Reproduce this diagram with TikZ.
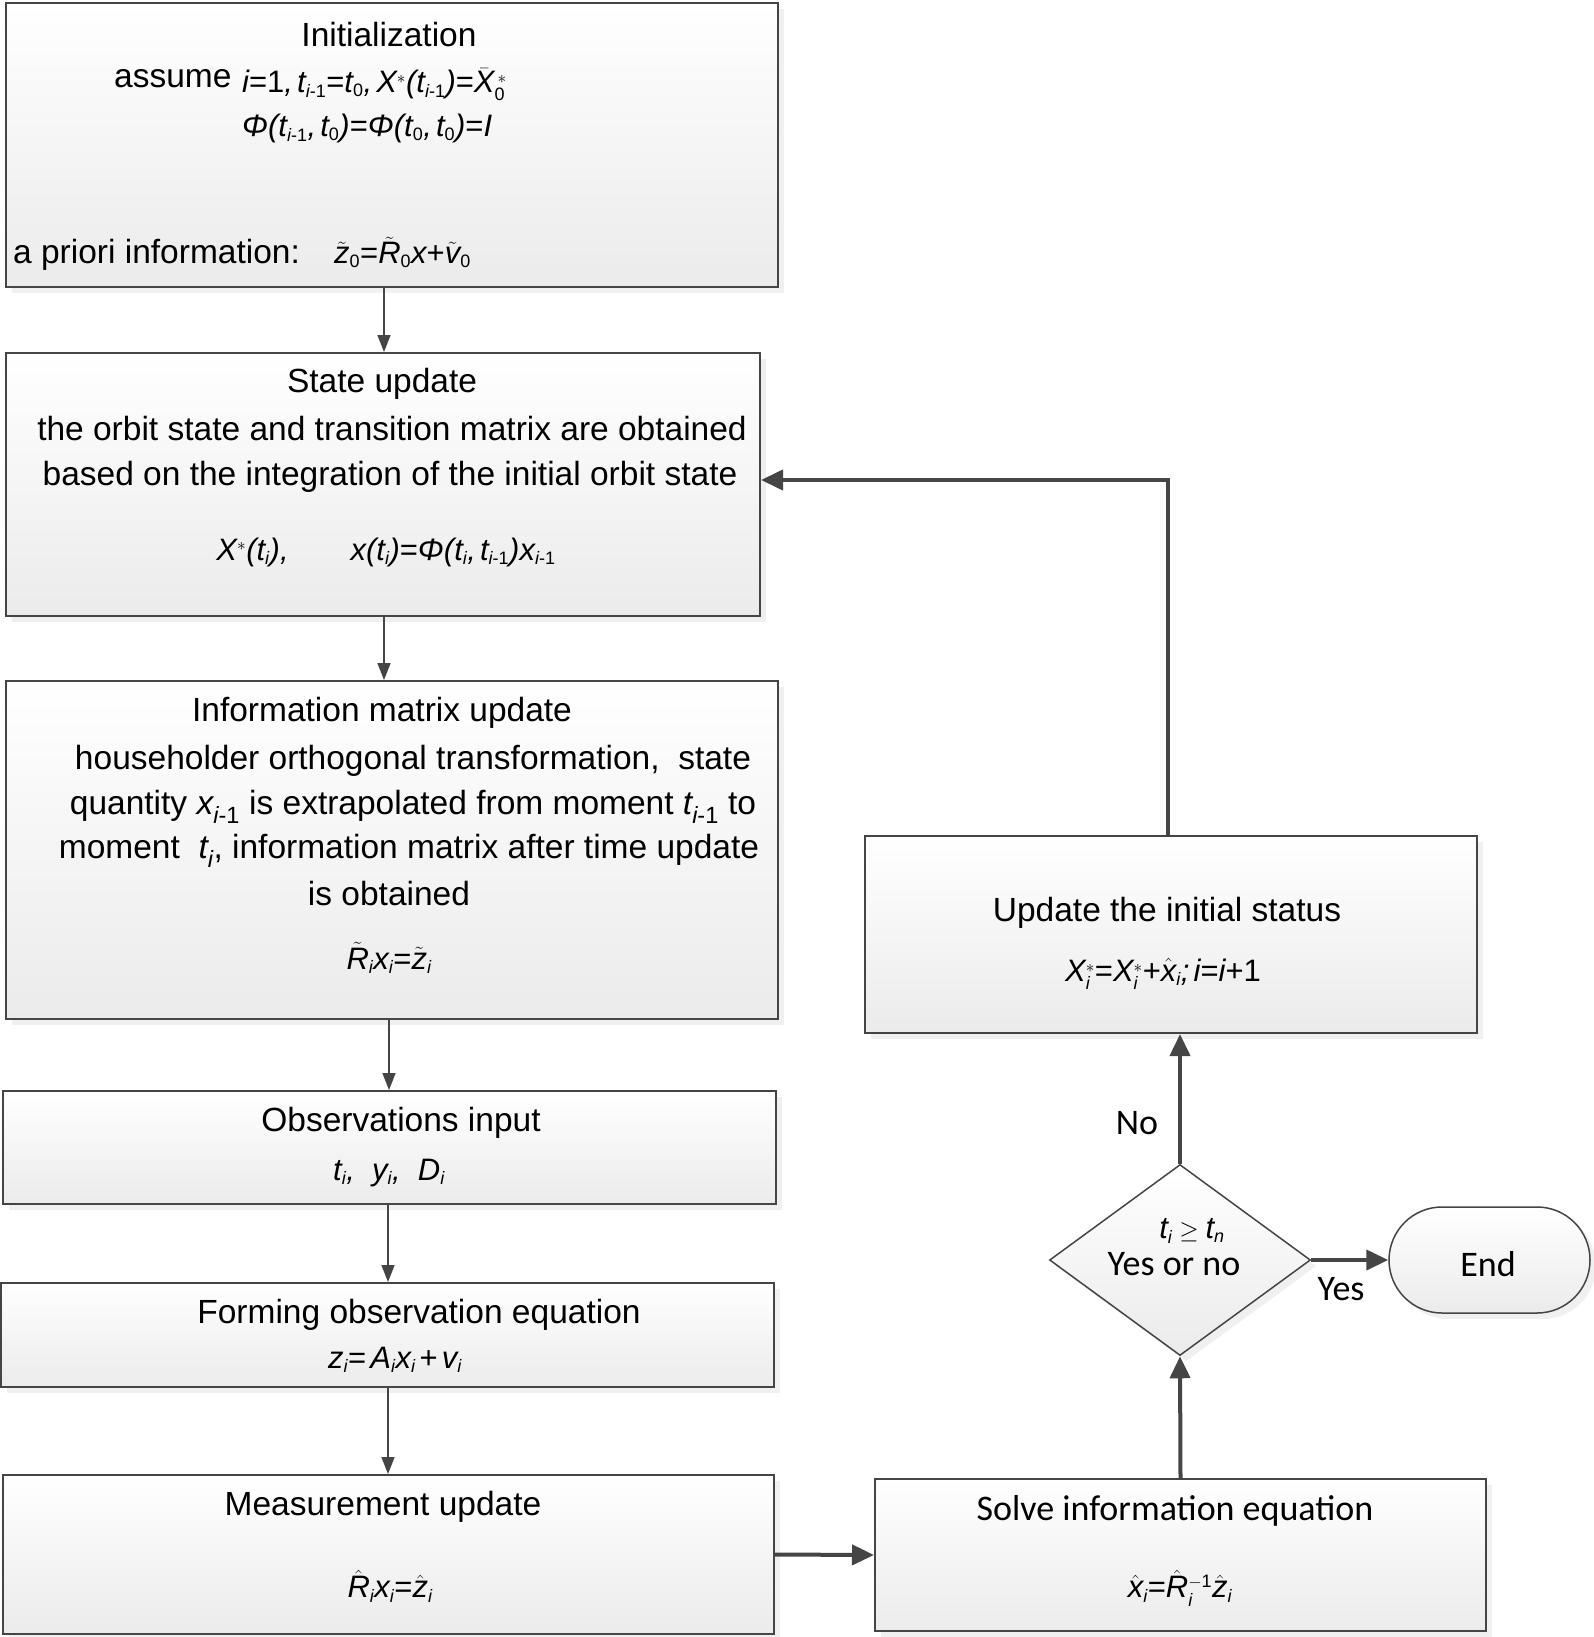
\documentclass[tikz,border=0pt]{standalone}
\usepackage{amsmath}
\usepackage{mathspec}
\setmainfont{Liberation Sans}
\setmathsfont(Digits,Latin,Greek,Symbols){Liberation Sans}
\newfontfamily\calib{Carlito}
\DeclareMathSizes{31}{31}{18}{14}
\usetikzlibrary{arrows.meta,shapes.geometric,shadows}
\definecolor{edgec}{HTML}{454545}
\definecolor{shadec}{HTML}{EBEBEB}
\newcommand{\Phii}{\text{\itshape Φ}}
\newcommand{\mi}{\text{-}}
\newcommand{\eq}{\text{=}}
\newcommand{\pl}{\text{+}}
\newcommand{\lp}{\text{\itshape (}}
\newcommand{\rp}{\text{\itshape )}}
\newcommand{\cm}{\text{\itshape ,}}
\newcommand{\sm}{\text{\itshape ;}}
\begin{document}
\begin{tikzpicture}[x=1pt,y=-1pt,
  box/.style={draw=edgec, line width=2pt, top color=white, bottom color=shadec,
    drop shadow={shadow xshift=6pt, shadow yshift=-6pt, fill=black!11}, inner sep=0pt},
  txt/.style={inner sep=0pt, font=\fontsize{33.5}{44}\selectfont},
  fml/.style={inner sep=0pt, font=\fontsize{31}{40}\selectfont},
  cal/.style={inner sep=0pt, font=\calib\fontsize{36}{44}\selectfont},
  thinarr/.style={draw=edgec, line width=1.6pt, -{Triangle[length=17pt,width=13pt]}},
  thickarr/.style={draw=edgec, line width=4pt, -{Triangle[length=22pt,width=20pt]}}]
\fill[white] (0,0) rectangle (1594,1637);
\useasboundingbox (0,0) rectangle (1594,1637);

% boxes
\node[box, minimum width=772pt, minimum height=284pt] (init) at (392,145) {};
\node[box, minimum width=754pt, minimum height=263pt] (state) at (383,484.5) {};
\node[box, minimum width=772pt, minimum height=338pt] (info) at (392,850) {};
\node[box, minimum width=773pt, minimum height=113pt] (obs) at (389.5,1147.5) {};
\node[box, minimum width=773pt, minimum height=104pt] (form) at (387.5,1335) {};
\node[box, minimum width=771pt, minimum height=159pt] (meas) at (388.5,1554.5) {};
\node[box, minimum width=611pt, minimum height=152pt] (solve) at (1180.5,1555) {};
\node[box, minimum width=612pt, minimum height=197pt] (upd) at (1171,934.5) {};
\node[box, diamond, aspect=1.37, minimum width=261pt, minimum height=191pt, line width=1.5pt] (dec) at (1180,1260) {};
\node[box, rounded corners=53pt, minimum width=201pt, minimum height=106pt, line width=1.5pt] (endn) at (1489.5,1260) {};

% texts: Initialization
\node[txt] (t1) at (389,35) {Initialization};
\node[txt, anchor=base west] (t2) at (114,88) {assume};
\node[fml, anchor=base west] (t3) at (242,93) {$i\eq1\cm\, t_{i\mi1}\eq t_0\cm\, X^{*}\lp t_{i\mi1}\rp\eq\bar{X}_0^{\,*}$};
\node[fml, anchor=base west] (t4) at (242,137) {$\Phii\lp t_{i\mi1}\cm\, t_0\rp\eq\Phii\lp t_0\cm\, t_0\rp\eq I$};
\node[txt, anchor=base west] (t5) at (13,264) {a priori information:};
\node[fml, anchor=base west] (t6) at (334,264) {$\tilde{z}_0\eq\tilde{R}_0x\pl\tilde{v}_0$};

% State update
\node[txt] (s1) at (382,384) {State update};
\node[txt] (s2) at (392,429) {the orbit state and transition matrix are obtained};
\node[txt] (s3) at (390,477) {based on the integration of the initial orbit state};
\node[fml] (s4) at (386,552) {$X^{*}\lp t_i\rp\cm\qquad x\lp t_i\rp\eq\Phii\lp t_i\cm\, t_{i\mi1}\rp x_{i\mi1}$};

% Information matrix update
\node[txt] (m1) at (382,713) {Information matrix update};
\node[txt] (m2) at (413,761) {householder orthogonal transformation,\ \ state};
\node[txt] (m3) at (413,807) {quantity $x_{i\mi1}$ is extrapolated from moment $t_{i\mi1}$ to};
\node[txt] (m4) at (409,851) {moment\ \ $t_i$, information matrix after time update};
\node[txt] (m5) at (389,894) {is obtained};
\node[fml] (m6) at (389,958) {$\tilde{R}_ix_i\eq\tilde{z}_i$};

% Observations
\node[txt] (o1) at (401,1123) {Observations input};
\node[fml] (o2) at (389,1173) {$t_i\cm\ \ y_i\cm\ \ D_i$};

% Forming
\node[txt] (f1) at (419,1315) {Forming observation equation};
\node[fml] (f2) at (395,1360) {$z_i\eq\,A_ix_i\,\pl\,v_i$};

% Measurement
\node[txt] (u1) at (383,1507) {Measurement update};
\node[fml] (u2) at (390,1586) {$\hat{R}_ix_i\eq\hat{z}_i$};

% Solve
\node[cal] (v1) at (1175,1511) {Solve information equation};
\node[fml] (v2) at (1180,1588) {$\hat{x}_i\eq\hat{R}_i^{-1}\hat{z}_i$};

% Update
\node[txt] (p1) at (1167,913) {Update the initial status};
\node[fml] (p2) at (1163,974) {$X_i^{*}\eq X_i^{*}\pl\hat{x}_i\sm\, i\eq i\pl1$};

% Decision
\node[fml] (d1) at (1192,1231) {$t_i\geq t_n$};
\node[cal] (d2) at (1174,1264) {Yes or no};
\node[cal] (e1) at (1488,1264) {End};
\node[cal] (no) at (1137,1123) {No};
\node[cal] (yes) at (1341,1289) {Yes};

% connectors
\draw[thinarr] (init.south -| 384,0) -- (state.north -| 384,0);
\draw[thinarr] (state.south -| 384,0) -- (info.north -| 384,0);
\draw[thinarr] (info.south -| 389,0) -- (obs.north -| 389,0);
\draw[thinarr] (obs.south -| 388,0) -- (form.north -| 388,0);
\draw[thinarr] (form.south -| 388,0) -- (meas.north -| 388,0);
\draw[thickarr] (meas.east) -- (solve.west);
\draw[thickarr] (solve.north) -- (dec.south);
\draw[thickarr] (dec.north) -- (dec.north |- upd.south);
\draw[thickarr] (dec.east) -- (endn.west);
\draw[thickarr] (upd.north -| 1168,0) |- (state.east |- 0,480);
\end{tikzpicture}
\end{document}
